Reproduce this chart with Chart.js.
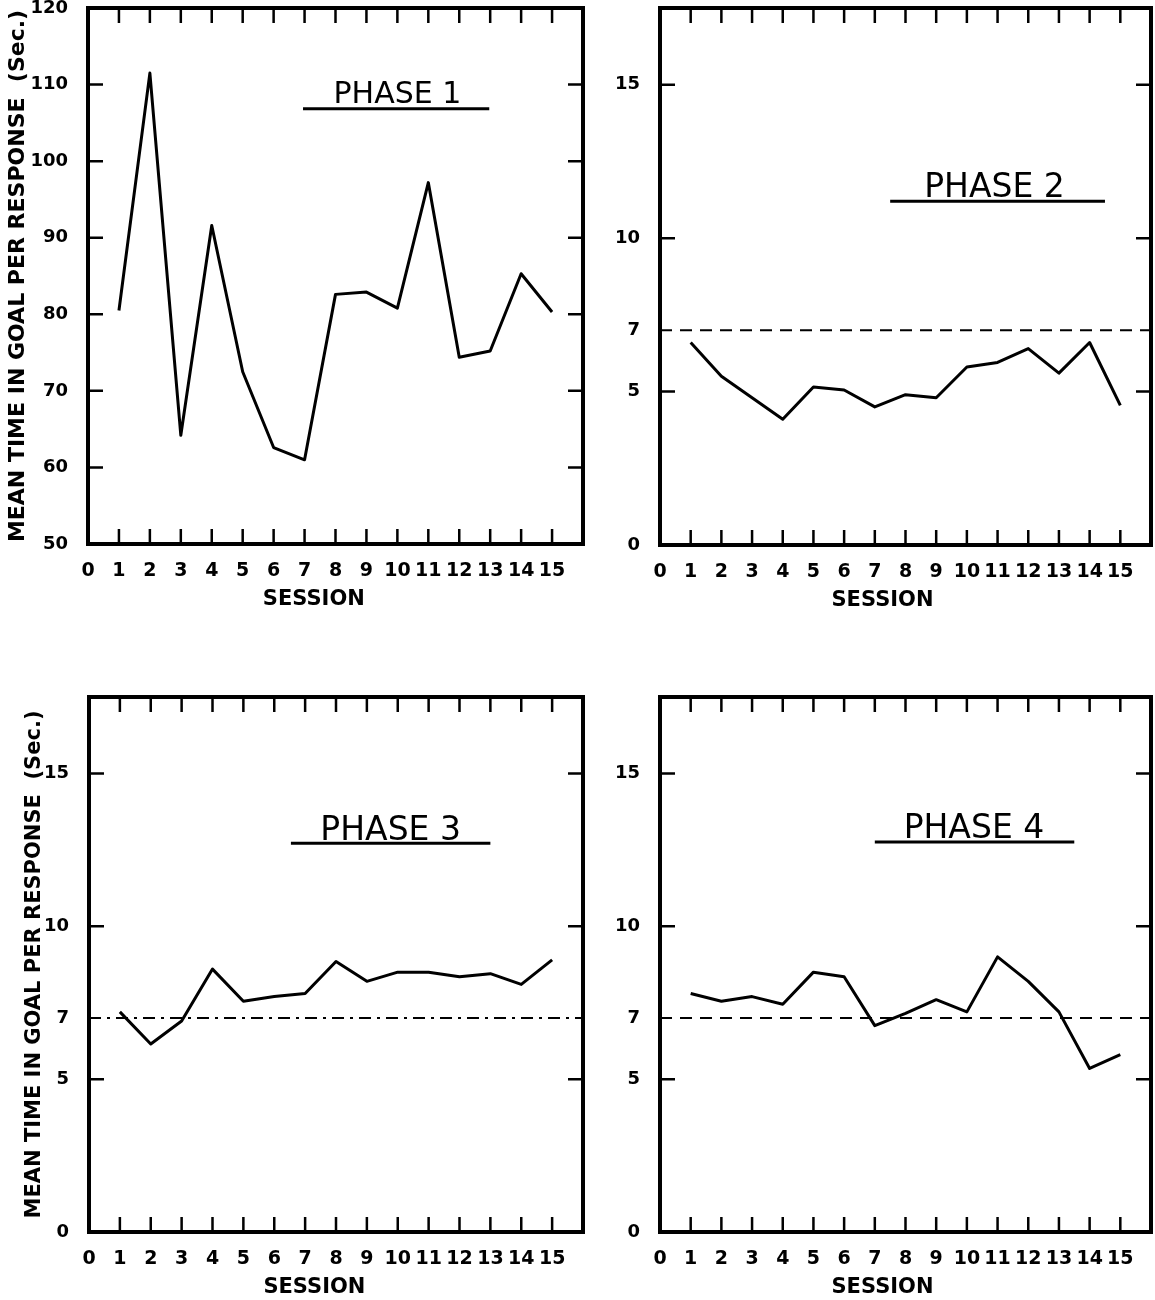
<!DOCTYPE html>
<html>
<head>
<meta charset="utf-8">
<script src="https://cdn.jsdelivr.net/npm/chart.js@4.4.1/dist/chart.umd.min.js"></script>
<style>
  body { margin: 0; background: #fff; }
  #wrap { position: relative; width: 1155px; height: 1300px; }
  #wrap canvas { position: absolute; }
</style>
</head>
<body>
<div id="wrap">
  <canvas id="p1" width="600" height="650" style="left:0;top:0"></canvas>
  <canvas id="p2" width="555" height="650" style="left:600px;top:0"></canvas>
  <canvas id="p3" width="600" height="650" style="left:0;top:650px"></canvas>
  <canvas id="p4" width="555" height="650" style="left:600px;top:650px"></canvas>
</div>
<script>
// sessions 1..15, mean time in goal per response (sec.)
const sessions = [1, 2, 3, 4, 5, 6, 7, 8, 9, 10, 11, 12, 13, 14, 15];
const phase1 = [80.5, 111.5, 64.2, 91.6, 72.5, 62.6, 61, 82.6, 82.9, 80.8, 97.2, 74.4, 75.2, 85.3, 80.3];
const phase2 = [6.6, 5.5, 4.8, 4.1, 5.15, 5.05, 4.5, 4.9, 4.8, 5.8, 5.95, 6.4, 5.6, 6.6, 4.55];
const phase3 = [7.2, 6.15, 6.9, 8.6, 7.55, 7.7, 7.8, 8.85, 8.2, 8.5, 8.5, 8.35, 8.45, 8.1, 8.9];
const phase4 = [7.8, 7.55, 7.7, 7.45, 8.5, 8.35, 6.75, 7.15, 7.6, 7.2, 9.0, 8.2, 7.2, 5.35, 5.8];

// criterion line
const criterion = 7;
const criterionX = [0, 16];

// ticks
const xTicks = [0, 1, 2, 3, 4, 5, 6, 7, 8, 9, 10, 11, 12, 13, 14, 15];
const yTicksPhase1 = [50, 60, 70, 80, 90, 100, 110, 120];
const yMarksPhase1 = [60, 70, 80, 90, 100, 110];
const yTicksOther = [0, 5, 7, 10, 15];
const yMarksOther = [5, 10, 15];

const yTitle = "MEAN TIME IN GOAL PER RESPONSE  (Sec.)";
const xTitle = "SESSION";

Chart.defaults.font.family = "DejaVu Sans";
Chart.defaults.color = "#000";

const framePlugin = {
  id: "frame",
  afterDatasetsDraw(chart, args, opts) {
    const { ctx, chartArea: a } = chart;
    const x = chart.scales.x, y = chart.scales.y;
    ctx.save();
    ctx.strokeStyle = "#000";
    ctx.lineWidth = 4;
    ctx.strokeRect(a.left, a.top, a.right - a.left, a.bottom - a.top);

    // inward tick marks
    const tl = 15;
    ctx.lineWidth = 2.5;
    ctx.beginPath();
    x.ticks.forEach(t => {
      if (t.value <= 0) return;
      const px = x.getPixelForValue(t.value);
      ctx.moveTo(px, a.top); ctx.lineTo(px, a.top + tl);
      ctx.moveTo(px, a.bottom); ctx.lineTo(px, a.bottom - tl);
    });
    opts.yMarks.forEach(v => {
      const py = y.getPixelForValue(v);
      ctx.moveTo(a.left, py); ctx.lineTo(a.left + tl, py);
      ctx.moveTo(a.right, py); ctx.lineTo(a.right - tl, py);
    });
    ctx.stroke();

    // phase label with underline
    const lab = opts.label;
    ctx.fillStyle = "#000";
    ctx.font = lab.size + "px 'DejaVu Sans'";
    ctx.textAlign = "center";
    ctx.textBaseline = "alphabetic";
    ctx.fillText(lab.text, x.getPixelForValue(lab.x), y.getPixelForValue(lab.y));
    ctx.lineWidth = 3;
    ctx.beginPath();
    const uy = y.getPixelForValue(lab.lineY);
    ctx.moveTo(x.getPixelForValue(lab.from), uy);
    ctx.lineTo(x.getPixelForValue(lab.to), uy);
    ctx.stroke();

    // session title
    ctx.font = "bold 21px 'DejaVu Sans'";
    ctx.textBaseline = "middle";
    ctx.fillText(xTitle, x.getPixelForValue(opts.sessionX), a.bottom + opts.sessionDy);
    ctx.restore();
  }
};

function makePanel(id, cfg) {
  const datasets = [{
    data: sessions.map((s, i) => ({ x: s, y: cfg.values[i] })),
    borderColor: "#000",
    borderWidth: 3,
    borderJoinStyle: "round",
    pointRadius: 0,
    tension: 0,
    fill: false
  }];
  if (cfg.refDash) {
    datasets.push({
      data: criterionX.map(v => ({ x: v, y: criterion })),
      borderColor: "#000",
      borderWidth: 2,
      borderDash: cfg.refDash,
      pointRadius: 0,
      fill: false
    });
  }
  return new Chart(document.getElementById(id), {
    type: "line",
    data: { datasets },
    options: {
      responsive: false,
      animation: false,
      layout: { padding: { top: cfg.top, right: cfg.right, left: 0, bottom: 0 } },
      plugins: {
        legend: { display: false },
        tooltip: { enabled: false },
        frame: {
          yMarks: cfg.yMarks,
          label: cfg.label,
          sessionX: cfg.sessionX,
          sessionDy: cfg.sessionDy
        }
      },
      scales: {
        x: {
          type: "linear",
          min: 0,
          max: 16,
          grid: { display: false },
          border: { display: false },
          afterBuildTicks: s => { s.ticks = xTicks.map(v => ({ value: v })); },
          afterFit: s => {
            s.height = cfg.xHeight;
            s.paddingLeft = 0; s.paddingRight = 0;
          },
          ticks: { font: { size: 19, weight: "bold" }, padding: 8, autoSkip: false, maxRotation: 0 }
        },
        y: {
          min: cfg.yMin,
          max: cfg.yMax,
          grid: { display: false },
          border: { display: false },
          afterBuildTicks: s => { s.ticks = cfg.yTicks.map(v => ({ value: v })); },
          afterFit: s => {
            s.width = cfg.yWidth;
            s.paddingTop = 0; s.paddingBottom = 0;
          },
          ticks: { font: { size: 18, weight: "bold" }, padding: 12 },
          title: cfg.titleSize ? {
            display: true,
            text: yTitle,
            font: { size: cfg.titleSize, weight: "bold" },
            padding: { top: cfg.titlePad, bottom: 0 }
          } : { display: false }
        }
      }
    },
    plugins: [framePlugin]
  });
}

makePanel("p1", {
  values: phase1, yMin: 50, yMax: 120, yTicks: yTicksPhase1, yMarks: yMarksPhase1,
  top: 8, right: 17, yWidth: 88, xHeight: 106,
  titleSize: 22, titlePad: 5,
  label: { text: "PHASE 1", size: 30, x: 10, y: 107.6, from: 6.95, to: 12.97, lineY: 106.85 },
  sessionX: 7.3, sessionDy: 56
});
makePanel("p2", {
  values: phase2, yMin: 0, yMax: 17.5, yTicks: yTicksOther, yMarks: yMarksOther,
  top: 8, right: 4, yWidth: 60, xHeight: 105, refDash: [12, 8],
  label: { text: "PHASE 2", size: 33, x: 10.9, y: 11.35, from: 7.5, to: 14.5, lineY: 11.2 },
  sessionX: 7.25, sessionDy: 56
});
makePanel("p3", {
  values: phase3, yMin: 0, yMax: 17.5, yTicks: yTicksOther, yMarks: yMarksOther,
  top: 47, right: 17, yWidth: 89, xHeight: 68, refDash: [12, 6, 3, 6],
  titleSize: 21, titlePad: 22,
  label: { text: "PHASE 3", size: 33, x: 9.77, y: 12.82, from: 6.54, to: 13.0, lineY: 12.72 },
  sessionX: 7.3, sessionDy: 56
});
makePanel("p4", {
  values: phase4, yMin: 0, yMax: 17.5, yTicks: yTicksOther, yMarks: yMarksOther,
  top: 47, right: 4, yWidth: 60, xHeight: 68, refDash: [12, 8],
  label: { text: "PHASE 4", size: 33, x: 10.23, y: 12.89, from: 7.0, to: 13.5, lineY: 12.76 },
  sessionX: 7.25, sessionDy: 56
});
</script>
</body>
</html>
